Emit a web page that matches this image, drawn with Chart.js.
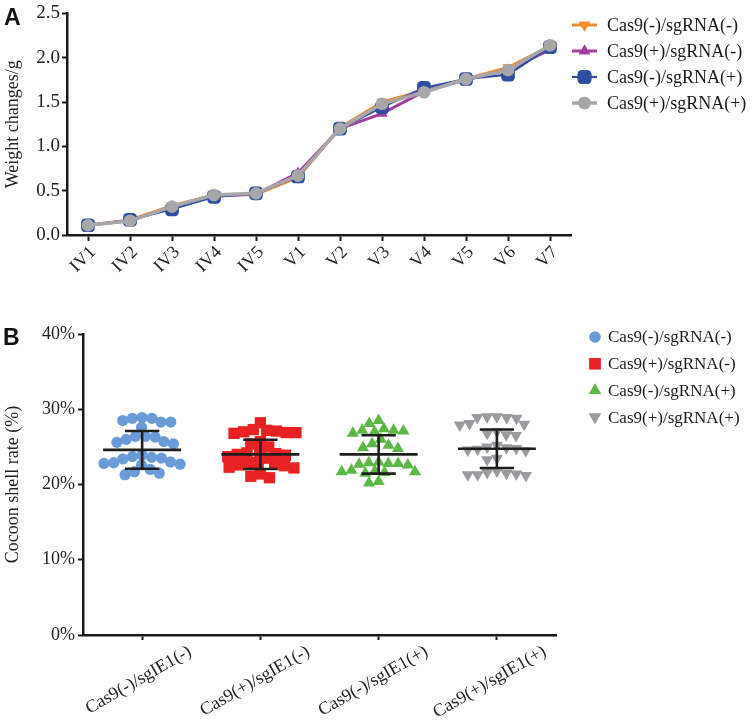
<!DOCTYPE html>
<html>
<head>
<meta charset="utf-8">
<script src="https://cdn.jsdelivr.net/npm/chart.js@4.4.1/dist/chart.umd.min.js"></script>
<style>
  html, body { margin: 0; padding: 0; background: #fff; }
  #wrap { position: relative; width: 756px; height: 724px; overflow: hidden; }
  .panel { position: absolute; left: 0; }
  .tag { position: absolute; font-family: "Liberation Sans", Arial, sans-serif; font-weight: bold; font-size: 23px; color: #111; line-height: 1; }
</style>
</head>
<body>
<div id="wrap">
  <div class="panel" style="top:0;width:756px;height:290px;"><canvas id="cA" width="756" height="290"></canvas></div>
  <div class="panel" style="top:290px;width:756px;height:434px;"><canvas id="cB" width="756" height="434"></canvas></div>
  <div class="tag" style="left:4px;top:6px;">A</div>
  <div class="tag" style="left:3px;top:326px;">B</div>
</div>
<script>
// ---------------- Panel A data ----------------
const stages = ['IV1','IV2','IV3','IV4','IV5','V1','V2','V3','V4','V5','V6','V7'];
const seriesNamesA = ['Cas9(-)/sgRNA(-)','Cas9(+)/sgRNA(-)','Cas9(-)/sgRNA(+)','Cas9(+)/sgRNA(+)'];
const weightCas9mSgm = [0.11,0.17,0.33,0.45,0.46,0.65,1.21,1.50,1.63,1.76,1.89,2.13];
const weightCas9pSgm = [0.11,0.16,0.32,0.44,0.46,0.70,1.20,1.37,1.62,1.75,1.86,2.09];
const weightCas9mSgp = [0.11,0.17,0.29,0.43,0.47,0.66,1.20,1.44,1.66,1.76,1.81,2.12];
const weightCas9pSgp = [0.11,0.16,0.32,0.45,0.47,0.67,1.20,1.48,1.61,1.76,1.86,2.14];
const yTicksA = [0,0.5,1.0,1.5,2.0,2.5];

// ---------------- Panel B data ----------------
const groupsB = ['Cas9(-)/sgIE1(-)','Cas9(+)/sgIE1(-)','Cas9(-)/sgIE1(+)','Cas9(+)/sgIE1(+)'];
const seriesNamesB = ['Cas9(-)/sgRNA(-)','Cas9(+)/sgRNA(-)','Cas9(-)/sgRNA(+)','Cas9(+)/sgRNA(+)'];
const rateG1 = [28.9,28.8,28.8,28.5,28.3,28.3,27.6,26.4,26.4,26.3,26.0,25.7,25.6,25.4,23.9,23.7,23.6,23.5,23.4,23.0,22.9,22.8,22.7,22.6,22.0,21.7,21.5,21.3];
const rateG2 = [28.2,27.3,27.2,27.1,27.0,26.9,26.8,26.9,25.7,25.4,25.0,24.4,24.2,24.1,24.0,23.9,23.7,23.5,22.9,22.8,22.7,22.6,22.5,22.3,22.2,21.4,21.1,20.9];
const rateG3 = [28.5,28.1,27.4,27.2,27.2,27.1,27.0,26.8,26.0,25.4,25.2,24.9,24.8,23.0,22.9,22.8,22.8,22.7,22.6,21.9,21.8,21.7,21.7,21.6,21.5,20.4,20.2];
const rateG4 = [29.0,29.0,28.9,28.9,28.8,28.1,28.0,27.9,27.0,26.8,26.6,26.5,25.2,25.0,24.9,24.8,24.7,24.6,24.5,23.5,23.3,21.8,21.6,21.5,21.4,21.3,21.3,21.2];
const meansB = [24.6,24.0,24.0,24.75];
const sdsB = [2.5,1.95,2.55,2.55];
const yTicksB = [0,10,20,30,40];

const SERIF = '"Liberation Serif", "Times New Roman", serif';
const AX = '#1a1a1a';

function drawMarker(ctx, opts, x, y) {
  if (Chart.helpers && Chart.helpers.drawPoint) {
    Chart.helpers.drawPoint(ctx, opts, x, y);
    ctx.fill();
  }
}

Chart.defaults.font.family = SERIF;

// ---------------- Panel A ----------------
const colA = ['#F28A2E','#A33EA1','#2D4EA2','#A7A7A9'];
const styleA = [
  {pointStyle:'triangle', rotation:180, radius:6.5},
  {pointStyle:'triangle', rotation:0, radius:6.5},
  {pointStyle:'rectRounded', rotation:0, radius:8},
  {pointStyle:'circle', rotation:0, radius:6.3}
];
const lwA = [3,3,2.2,3.5];
const seriesA = [weightCas9mSgm, weightCas9pSgm, weightCas9mSgp, weightCas9pSgp];

const legendA = {
  id: 'legendA',
  afterDraw(chart) {
    const ctx = chart.ctx;
    ctx.save();
    seriesNamesA.forEach((name, i) => {
      const y = 25 + i * 26;
      ctx.strokeStyle = colA[i];
      ctx.lineWidth = lwA[i];
      ctx.beginPath(); ctx.moveTo(572, y); ctx.lineTo(597, y); ctx.stroke();
      ctx.fillStyle = colA[i];
      drawMarker(ctx, {pointStyle: styleA[i].pointStyle, rotation: styleA[i].rotation, radius: styleA[i].radius, borderWidth: 0}, 584.5, y);
      ctx.fillStyle = '#1a1a1a';
      ctx.font = '18px ' + SERIF;
      ctx.textBaseline = 'middle';
      ctx.textAlign = 'left';
      ctx.fillText(name, 607, y + 1);
    });
    ctx.restore();
  }
};

new Chart(document.getElementById('cA'), {
  type: 'line',
  data: {
    labels: stages,
    datasets: seriesA.map((d, i) => ({
      label: seriesNamesA[i],
      data: d,
      order: seriesA.length - 1 - i,
      borderColor: colA[i],
      backgroundColor: colA[i],
      borderWidth: lwA[i],
      pointStyle: styleA[i].pointStyle,
      rotation: styleA[i].rotation,
      pointRadius: styleA[i].radius,
      pointBorderWidth: 0,
      pointBackgroundColor: colA[i],
      tension: 0
    }))
  },
  options: {
    responsive: false,
    animation: false,
    devicePixelRatio: 1,
    layout: { padding: { left: 0, top: 10, right: 185, bottom: 0 } },
    plugins: { legend: { display: false }, tooltip: { enabled: false } },
    scales: {
      x: {
        type: 'category',
        offset: true,
        afterFit(s) { s.height = 55; },
        border: { display: true, color: AX, width: 2.5 },
        grid: { display: true, drawOnChartArea: false, drawTicks: true, tickLength: 6, tickWidth: 2, tickColor: AX, offset: false },
        ticks: { color: '#222', font: { family: SERIF, size: 18 }, minRotation: 45, maxRotation: 45, padding: 1, labelOffset: 5, autoSkip: false }
      },
      y: {
        min: 0, max: 2.5,
        afterFit(s) { s.width = 67; },
        afterBuildTicks(s) { s.ticks = yTicksA.map(v => ({ value: v })); },
        border: { display: true, color: AX, width: 2.5 },
        grid: { display: true, drawOnChartArea: false, drawTicks: true, tickLength: 5, tickWidth: 2, tickColor: AX },
        ticks: { color: '#222', font: { family: SERIF, size: 19 }, padding: 2, callback: v => Number(v).toFixed(1) },
        title: { display: true, text: 'Weight changes/g', color: '#222', font: { family: SERIF, size: 18 }, padding: { top: 2, bottom: 2 } }
      }
    }
  },
  plugins: [legendA]
});

// ---------------- Panel B ----------------
const colB = ['#6A9BD7','#E82222','#5CB746','#9B9B9F'];
const styleB = [
  {pointStyle:'circle', rotation:0, radius:5.6},
  {pointStyle:'rect', rotation:0, radius:8},
  {pointStyle:'triangle', rotation:0, radius:7},
  {pointStyle:'triangle', rotation:180, radius:7}
];
const ratesB = [rateG1, rateG2, rateG3, rateG4];

// beeswarm spreading (layout only, derived from values)
const PX_PER_X = 118, PX_PER_Y = 7.525, DIAM = 9.8;
function swarm(vals) {
  const placed = [];
  const out = [];
  vals.forEach(v => {
    const py = v * PX_PER_Y;
    const intervals = [];
    placed.forEach(p => {
      const dy = Math.abs(p.y - py);
      if (dy < DIAM) {
        const h = Math.sqrt(DIAM * DIAM - dy * dy);
        intervals.push([p.x - h, p.x + h]);
      }
    });
    const cands = [0];
    intervals.forEach(iv => { cands.push(iv[0], iv[1]); });
    const ok = cands.filter(c => intervals.every(iv => !(c > iv[0] + 1e-6 && c < iv[1] - 1e-6)));
    ok.sort((a, b) => Math.abs(a) - Math.abs(b) || a - b);
    const x = ok[0];
    placed.push({ x, y: py });
    out.push(x);
  });
  return out;
}

const errorBars = {
  id: 'errorBars',
  afterDatasetsDraw(chart) {
    const ctx = chart.ctx, xs = chart.scales.x, ys = chart.scales.y;
    ctx.save();
    ctx.strokeStyle = '#1e1e1e';
    ctx.lineWidth = 2.6;
    meansB.forEach((m, i) => {
      const xc = xs.getPixelForValue(i);
      const ym = ys.getPixelForValue(m);
      const yt = ys.getPixelForValue(m + sdsB[i]);
      const yb = ys.getPixelForValue(m - sdsB[i]);
      const hw = xs.getPixelForValue(i + 0.33) - xc;
      const cw = xs.getPixelForValue(i + 0.145) - xc;
      ctx.beginPath();
      ctx.moveTo(xc - hw, ym); ctx.lineTo(xc + hw, ym);
      ctx.moveTo(xc, yt); ctx.lineTo(xc, yb);
      ctx.moveTo(xc - cw, yt); ctx.lineTo(xc + cw, yt);
      ctx.moveTo(xc - cw, yb); ctx.lineTo(xc + cw, yb);
      ctx.stroke();
    });
    ctx.restore();
  }
};

const legendB = {
  id: 'legendB',
  afterDraw(chart) {
    const ctx = chart.ctx;
    ctx.save();
    seriesNamesB.forEach((name, i) => {
      const y = 47 + i * 26.7;
      ctx.fillStyle = colB[i];
      drawMarker(ctx, {pointStyle: styleB[i].pointStyle, rotation: styleB[i].rotation, radius: styleB[i].radius, borderWidth: 0}, 595, y);
      ctx.fillStyle = '#1a1a1a';
      ctx.font = '17px ' + SERIF;
      ctx.textBaseline = 'middle';
      ctx.textAlign = 'left';
      ctx.fillText(name, 608, y + 1);
    });
    ctx.restore();
  }
};

new Chart(document.getElementById('cB'), {
  type: 'scatter',
  data: {
    datasets: ratesB.map((vals, i) => {
      const offs = swarm(vals);
      return {
        label: seriesNamesB[i],
        data: vals.map((v, k) => ({ x: i + offs[k] / PX_PER_X, y: v })),
        pointStyle: styleB[i].pointStyle,
        rotation: styleB[i].rotation,
        pointRadius: styleB[i].radius,
        pointBorderWidth: 0,
        pointBackgroundColor: colB[i],
        backgroundColor: colB[i],
        borderColor: colB[i]
      };
    })
  },
  options: {
    responsive: false,
    animation: false,
    devicePixelRatio: 1,
    layout: { padding: { left: 0, top: 44, right: 200, bottom: 0 } },
    plugins: { legend: { display: false }, tooltip: { enabled: false } },
    scales: {
      x: {
        type: 'linear', min: -0.5, max: 3.5,
        afterFit(s) { s.height = 89; },
        afterBuildTicks(s) { s.ticks = groupsB.map((g, i) => ({ value: i })); },
        border: { display: true, color: AX, width: 2.5 },
        grid: { display: true, drawOnChartArea: false, drawTicks: true, tickLength: 5, tickWidth: 2, tickColor: AX },
        ticks: { color: '#222', font: { family: SERIF, size: 18 }, minRotation: 30, maxRotation: 30, padding: 1, labelOffset: 48, autoSkip: false,
                 callback: v => groupsB[v] }
      },
      y: {
        min: 0, max: 40,
        afterFit(s) { s.width = 83; },
        afterBuildTicks(s) { s.ticks = yTicksB.map(v => ({ value: v })); },
        border: { display: true, color: AX, width: 2.5 },
        grid: { display: true, drawOnChartArea: false, drawTicks: true, tickLength: 5, tickWidth: 2, tickColor: AX },
        ticks: { color: '#222', font: { family: SERIF, size: 18 }, padding: 3, callback: v => v + '%' },
        title: { display: true, text: 'Cocoon shell rate (%)', color: '#222', font: { family: SERIF, size: 18 }, padding: { top: 2, bottom: 2 } }
      }
    }
  },
  plugins: [errorBars, legendB]
});
</script>
</body>
</html>
